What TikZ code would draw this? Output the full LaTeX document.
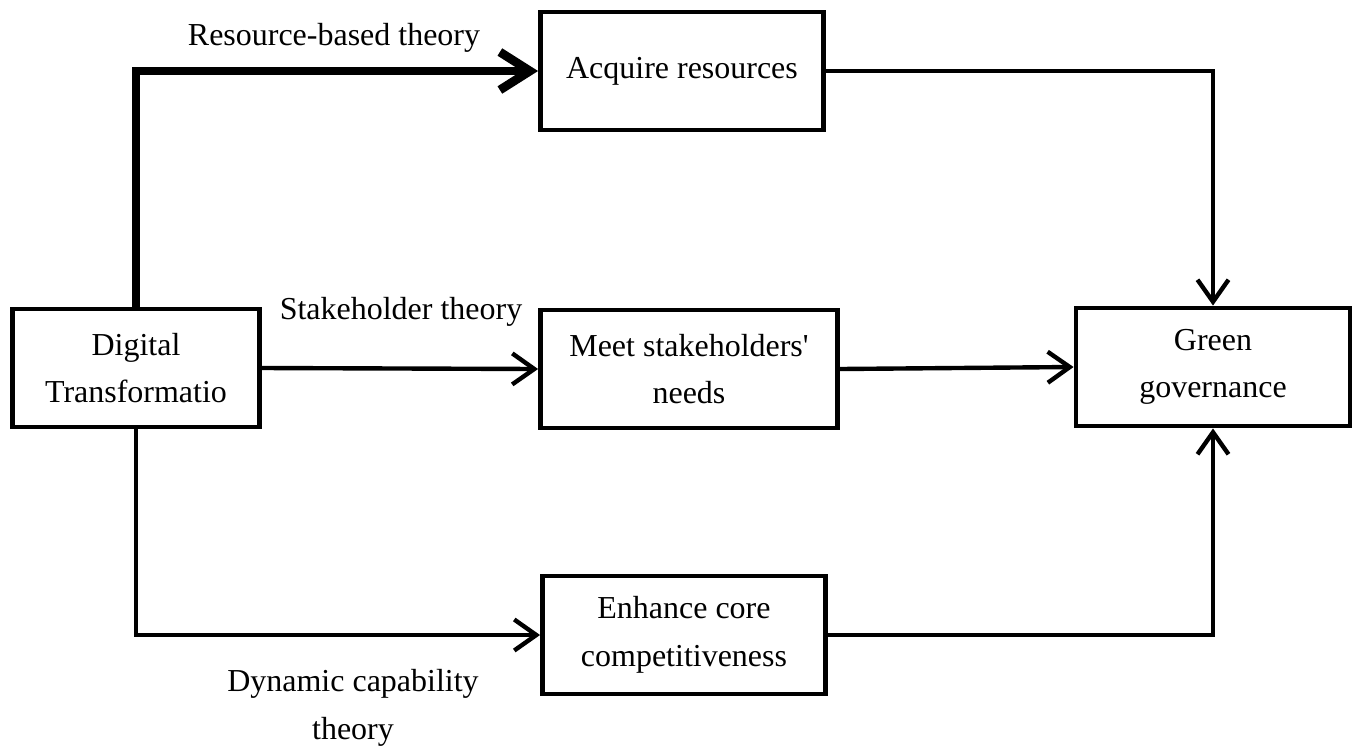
\documentclass[tikz,border=0pt]{standalone}
\usepackage{fontspec}
\setmainfont{Liberation Serif}[Ligatures=TeXOff]
\usetikzlibrary{arrows.meta}

\begin{document}
\begin{tikzpicture}[x=0.02cm,y=-0.02cm,
        box/.style={draw,line width=2.8pt,align=center,inner sep=0pt,
            minimum height=2.36cm},
        link/.style={line width=2.5pt,-{Straight Barb[length=0.44cm,width=0.62cm,line width=2.5pt]}},
        boldlink/.style={line width=5pt,-{Straight Barb[length=0.6cm,width=0.76cm,line width=5pt]}},
        theory/.style={align=center}]
        \useasboundingbox (0,0) rectangle (1363,745);
        \fontsize{18.2}{27}\selectfont

        % Boxes
        \node[box,minimum width=4.94cm] (dt) at (136,368) {Digital\\Transformatio};
        \node[box,minimum width=5.66cm] (acq) at (682,71) {Acquire resources};
        \node[box,minimum width=5.94cm] (meet) at (689,369) {Meet stakeholders'\\needs};
        \node[box,minimum width=5.66cm] (enh) at (684,635) {Enhance core\\competitiveness};
        \node[box,minimum width=5.48cm] (gg) at (1213,367) {Green\\governance};

        % Paths from digital transformation
        \draw[boldlink] (dt.north) |- (acq.west);
        \draw[link] (dt.east) -- (meet.west);
        \draw[link] (dt.south) |- (enh.west);

        % Paths into green governance
        \draw[link] (acq.east) -| (gg.north);
        \draw[link] (meet.east) -- (gg.west);
        \draw[link] (enh.east) -| (gg.south);

        % Labels
        \node[theory] (rbt) at (334,38) {Resource-based theory};
        \node[theory] (sht) at (401,312) {Stakeholder theory};
        \node[theory] (dct) at (353,708) {Dynamic capability\\theory};

    \end{tikzpicture}
\end{document}
